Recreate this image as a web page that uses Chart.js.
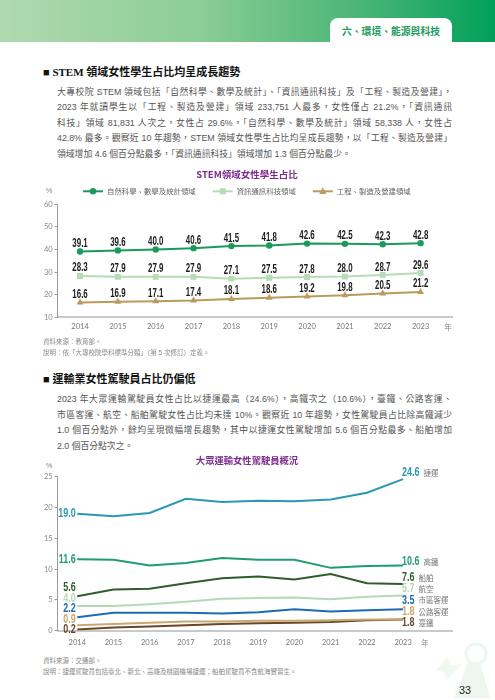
<!DOCTYPE html>
<html lang="zh-Hant">
<head>
<meta charset="utf-8">
<script src="https://cdn.jsdelivr.net/npm/chart.js@4.4.1/dist/chart.umd.min.js"></script>
<style>
html, body { margin: 0; padding: 0; background: #fff; }
body { width: 495px; height: 700px; position: relative; overflow: hidden; font-family: "Liberation Sans", "Noto Sans CJK TC", sans-serif; }
.band { position: absolute; left: 0; top: 0; width: 495px; height: 42px; background: linear-gradient(90deg, #b0d9b0 0%, #8ccd96 40%, #45b474 75%, #00a05a 100%); }
.tab { position: absolute; left: 330px; top: 18px; width: 122px; height: 25px; background: #fff; border-radius: 8px 8px 0 0; color: #1c9b5c; font: bold 9.8px "Noto Sans CJK TC"; text-align: center; line-height: 27px; }
.h { position: absolute; left: 43px; font: bold 11px "Liberation Serif", "Noto Sans CJK TC"; color: #111; line-height: 14px; white-space: nowrap; }
.txt { position: absolute; left: 57px; width: 395px; font-size: 8.8px; line-height: 15.5px; color: #555; }
.txt div { text-align: justify; text-align-last: justify; }
.txt div.last { text-align-last: left; }
.note { position: absolute; left: 43px; font-size: 6.5px; color: #8a8a8a; line-height: 10.8px; white-space: nowrap; }
canvas { position: absolute; left: 0; }
.pg { position: absolute; left: 459px; top: 684px; font: 11px "Liberation Sans"; color: #222; }
.deco { position: absolute; left: 432px; top: 640px; }
</style>
</head>
<body>
<div class="band"></div>
<div class="tab">六、環境、能源與科技</div>

<div class="h" style="top:65px">■ STEM 領域女性學生占比均呈成長趨勢</div>
<div class="txt" style="top:84.5px">
  <div>大專校院 STEM 領域包括「自然科學、數學及統計」、「資訊通訊科技」及「工程、製造及營建」，</div>
  <div>2023 年就讀學生以「工程、製造及營建」領域 233,751 人最多，女性僅占 21.2%，「資訊通訊</div>
  <div>科技」領域 81,831 人次之，女性占 29.6%，「自然科學、數學及統計」領域 58,338 人，女性占</div>
  <div>42.8% 最多。觀察近 10 年趨勢，STEM 領域女性學生占比均呈成長趨勢，以「工程、製造及營建」</div>
  <div class="last">領域增加 4.6 個百分點最多，「資訊通訊科技」領域增加 1.3 個百分點最少。</div>
</div>

<canvas id="stemChart" width="495" height="180" style="top:160px"></canvas>
<div class="note" style="top:337px">資料來源：教育部。<br>說明：依「大專校院學科標準分類」（第 5 次修訂）定義。</div>

<div class="h" style="top:372px">■ 運輸業女性駕駛員占比仍偏低</div>
<div class="txt" style="top:392px">
  <div>2023 年大眾運輸駕駛員女性占比以捷運最高（24.6%），高鐵次之（10.6%），臺鐵、公路客運、</div>
  <div>市區客運、航空、船舶駕駛女性占比均未達 10%。觀察近 10 年趨勢，女性駕駛員占比除高鐵減少</div>
  <div>1.0 個百分點外，餘均呈現微幅增長趨勢，其中以捷運女性駕駛增加 5.6 個百分點最多、船舶增加</div>
  <div class="last">2.0 個百分點次之。</div>
</div>

<canvas id="transportChart" width="495" height="200" style="top:450px"></canvas>
<div class="note" style="top:656px">資料來源：交通部。<br>說明：捷運駕駛員包括臺北、新北、高雄及桃園機場捷運；船舶駕駛員不含航海實習生。</div>

<svg class="deco" width="63" height="60" viewBox="0 0 63 60">
  <circle cx="44" cy="14" r="10" fill="none" stroke="#edf7ef" stroke-width="3"/>
  <polygon points="36,22 48,22 58,58 22,58" fill="#edf7ef"/>
  <polygon points="4,30 16,16 18,26 30,24 14,40 12,32" fill="#eff8f1"/>
</svg>
<div class="pg">33</div>

<script>
const years = [2014, 2015, 2016, 2017, 2018, 2019, 2020, 2021, 2022, 2023];

// STEM 領域女性學生占比 (%)
const stemNames = ['自然科學、數學及統計領域', '資訊通訊科技領域', '工程、製造及營建領域'];
const stemScience = [39.1, 39.6, 40.0, 40.6, 41.5, 41.8, 42.6, 42.5, 42.3, 42.8];
const stemIct = [28.3, 27.9, 27.9, 27.9, 27.1, 27.5, 27.8, 28.0, 28.7, 29.6];
const stemEng = [16.6, 16.9, 17.1, 17.4, 18.1, 18.6, 19.2, 19.8, 20.5, 21.2];
const stemTicks = [10, 20, 30, 40, 50, 60];

// 大眾運輸女性駕駛員占比 (%)
const transportNames = ['捷運', '高鐵', '船舶', '航空', '市區客運', '公路客運', '臺鐵'];
const mrt = [19.0, 18.6, 19.1, 21.4, 20.9, 21.1, 21.0, 21.3, 22.4, 24.6];
const hsr = [11.6, 11.5, 10.6, 11.0, 11.8, 11.5, 11.5, 10.2, 10.5, 10.6];
const ship = [5.6, 6.7, 6.8, 7.7, 8.5, 8.8, 8.3, 9.2, 7.7, 7.6];
const aviation = [4.0, 4.0, 4.3, 4.7, 5.2, 5.3, 5.4, 5.1, 5.5, 5.7];
const cityBus = [2.2, 2.9, 2.9, 2.9, 2.8, 3.0, 3.5, 3.1, 3.3, 3.5];
const highwayBus = [0.9, 1.1, 1.3, 1.5, 1.5, 1.6, 1.6, 1.7, 1.8, 1.8];
const railway = [0.2, 0.5, 0.7, 0.9, 1.1, 1.2, 1.3, 1.4, 1.7, 1.8];
const transportTicks = [0, 5, 10, 15, 20, 25];

const pts = arr => arr.map((v, i) => ({ x: years[i], y: v }));

// squeeze the bold numbers so they look like the condensed face in the print
function narrowText(ctx, str, x, y, align, digitW) {
    const sx = digitW / ctx.measureText('0').width;
    const w = ctx.measureText(str).width * sx;
    let left = x;
    if (align === 'center') left = x - w / 2;
    else if (align === 'right') left = x - w;
    ctx.save();
    ctx.translate(left, y);
    ctx.scale(sx, 1);
    ctx.textAlign = 'left';
    ctx.fillText(str, 0, 0);
    ctx.restore();
    return left + w;
}

function marker(ctx, style, x, y, color) {
    ctx.fillStyle = color;
    ctx.beginPath();
    if (style === 'circle') {
        ctx.arc(x, y, 3.2, 0, Math.PI * 2);
    } else if (style === 'rect') {
        ctx.rect(x - 3, y - 3, 6, 6);
    } else {
        ctx.moveTo(x, y - 4);
        ctx.lineTo(x + 3.6, y + 2.6);
        ctx.lineTo(x - 3.6, y + 2.6);
        ctx.closePath();
    }
    ctx.fill();
}

const tickFont = { family: '"Lato", "Liberation Sans"', size: 7.5 };

const stemChart = () => {
    const ctx = document.getElementById('stemChart').getContext('2d');
    const colors = ['#1b9a5c', '#b5ddb5', '#bb9b5c'];
    const styles = ['circle', 'rect', 'triangle'];
    const series = [stemScience, stemIct, stemEng];

    const decor = {
        id: 'stemDecor',
        afterDatasetsDraw(chart) {
            const c = chart.ctx;
            c.save();
            c.font = 'bold 13px "Liberation Sans"';
            c.fillStyle = '#1a1a1a';
            c.textBaseline = 'alphabetic';
            series.forEach((arr, di) => {
                chart.getDatasetMeta(di).data.forEach((p, i) => {
                    narrowText(c, arr[i].toFixed(1), p.x, p.y - 4.5, 'center', 4.4);
                });
            });
            c.restore();
        },
        afterDraw(chart) {
            const c = chart.ctx;
            c.save();
            c.textBaseline = 'middle';
            c.textAlign = 'center';
            c.fillStyle = '#7d2c8c';
            c.font = 'bold 9.5px "Noto Sans CJK TC"';
            c.fillText('STEM領域女性學生占比', 247, 14.3);

            // legend: line + marker + name
            c.font = '7.4px "Noto Sans CJK TC"';
            c.textAlign = 'left';
            let x = 83;
            stemNames.forEach((name, i) => {
                c.strokeStyle = colors[i];
                c.lineWidth = 2;
                c.beginPath();
                c.moveTo(x, 31.3);
                c.lineTo(x + 20, 31.3);
                c.stroke();
                marker(c, styles[i], x + 10, 31.3, colors[i]);
                c.fillStyle = '#666';
                c.fillText(name, x + 24, 31.5);
                x += 24 + c.measureText(name).width + 17;
            });

            c.fillStyle = '#888';
            c.font = '7.5px "Liberation Sans"';
            c.textAlign = 'center';
            c.fillText('%', 49, 31.3);
            c.font = '7.5px "Noto Sans CJK TC"';
            c.fillText('年', 448, 167.3);
            c.restore();
        }
    };

    new Chart(ctx, {
        type: 'line',
        data: {
            datasets: series.map((arr, i) => ({
                label: stemNames[i],
                data: pts(arr),
                borderColor: colors[i],
                backgroundColor: colors[i],
                borderWidth: 2,
                pointStyle: styles[i],
                pointRadius: styles[i] === 'rect' ? 4.2 : (styles[i] === 'circle' ? 3.2 : 4),
                pointBorderWidth: 0,
                tension: 0,
            }))
        },
        options: {
            responsive: false,
            animation: false,
            layout: { padding: { top: 44.3, right: 43, bottom: 0, left: 0 } },
            scales: {
                x: {
                    type: 'linear',
                    min: 2013.41,
                    max: 2023.83,
                    afterBuildTicks: s => { s.ticks = years.map(v => ({ value: v })); },
                    afterFit: s => { s.height = 22.7; },
                    ticks: { callback: v => String(v), font: tickFont, color: '#777', padding: 5, maxRotation: 0, autoSkip: false },
                    grid: { display: false, drawTicks: false },
                    border: { display: true, color: '#c9c9c9', width: 2 },
                },
                y: {
                    min: 10,
                    max: 60,
                    afterBuildTicks: s => { s.ticks = stemTicks.map(v => ({ value: v })); },
                    afterFit: s => { s.width = 57.7; },
                    ticks: { font: tickFont, color: '#888', padding: 2 },
                    grid: { drawOnChartArea: false, drawTicks: true, tickLength: 3, color: '#999' },
                    border: { display: true, color: '#999', width: 1 },
                }
            },
            plugins: {
                legend: { display: false },
                tooltip: { enabled: false },
            }
        },
        plugins: [decor]
    });
}
document.addEventListener('DOMContentLoaded', stemChart);


const transportChart = () => {
    const ctx = document.getElementById('transportChart').getContext('2d');
    const colors = ['#2a99b3', '#1f9d6c', '#2e5d2b', '#b3dab4', '#1e6cb0', '#c9a96f', '#6a4727'];
    const series = [mrt, hsr, ship, aviation, cityBus, highwayBus, railway];

    const decor = {
        id: 'transportDecor',
        afterDatasetsDraw(chart) {
            const c = chart.ctx;
            const n = series.length;
            const last = years.length - 1;
            c.save();
            c.textBaseline = 'middle';

            // start values, stacked upward from the lowest line
            let prev = Infinity;
            for (let i = n - 1; i >= 0; i--) {
                const p = chart.getDatasetMeta(i).data[0];
                const y = Math.min(p.y, prev - 10.5);
                prev = y;
                c.font = 'bold 13px "Liberation Sans"';
                c.fillStyle = colors[i];
                narrowText(c, series[i][0].toFixed(1), p.x - 1.5, y, 'right', 5.0);
            }

            // end values + names
            prev = Infinity;
            for (let i = n - 1; i >= 0; i--) {
                const p = chart.getDatasetMeta(i).data[last];
                let y = i === n - 1 ? p.y + 3 : Math.min(p.y - 4, prev - 11.3);
                if (i === 0) y = p.y - 7;
                prev = y;
                c.font = 'bold 13px "Liberation Sans"';
                c.fillStyle = colors[i];
                const end = narrowText(c, series[i][last].toFixed(1), p.x - 1, y, 'left', 5.0);
                c.font = '7.5px "Noto Sans CJK TC"';
                c.fillStyle = '#777';
                c.textAlign = 'left';
                c.fillText(transportNames[i], end + 4, y + 0.5);
            }
            c.restore();
        },
        afterDraw(chart) {
            const c = chart.ctx;
            c.save();
            c.textBaseline = 'middle';
            c.textAlign = 'center';
            c.fillStyle = '#7d2c8c';
            c.font = 'bold 9.3px "Noto Sans CJK TC"';
            c.fillText('大眾運輸女性駕駛員概況', 247, 10.7);
            c.fillStyle = '#888';
            c.font = '7.5px "Liberation Sans"';
            c.fillText('%', 49, 15.7);
            c.font = '7.5px "Noto Sans CJK TC"';
            c.fillText('年', 425, 192.7);
            c.restore();
        }
    };

    new Chart(ctx, {
        type: 'line',
        data: {
            datasets: series.map((arr, i) => ({
                label: transportNames[i],
                data: pts(arr),
                borderColor: colors[i],
                backgroundColor: colors[i],
                borderWidth: 2,
                pointRadius: 0,
                tension: 0,
            }))
        },
        options: {
            responsive: false,
            animation: false,
            layout: { padding: { top: 26.7, right: 43, bottom: 0, left: 0 } },
            scales: {
                x: {
                    type: 'linear',
                    min: 2013.46,
                    max: 2024.35,
                    afterBuildTicks: s => { s.ticks = years.map(v => ({ value: v })); },
                    afterFit: s => { s.height = 19.3; },
                    ticks: { callback: v => String(v), font: tickFont, color: '#777', padding: 7, maxRotation: 0, autoSkip: false },
                    grid: { display: false, drawTicks: false },
                    border: { display: true, color: '#c9c9c9', width: 2 },
                },
                y: {
                    min: 0,
                    max: 25,
                    afterBuildTicks: s => { s.ticks = transportTicks.map(v => ({ value: v })); },
                    afterFit: s => { s.width = 57.7; },
                    ticks: { font: tickFont, color: '#888', padding: 2 },
                    grid: { drawOnChartArea: false, drawTicks: true, tickLength: 3, color: '#999' },
                    border: { display: true, color: '#999', width: 1 },
                }
            },
            plugins: {
                legend: { display: false },
                tooltip: { enabled: false },
            }
        },
        plugins: [decor]
    });
}
document.addEventListener('DOMContentLoaded', transportChart);
</script>
</body>
</html>
